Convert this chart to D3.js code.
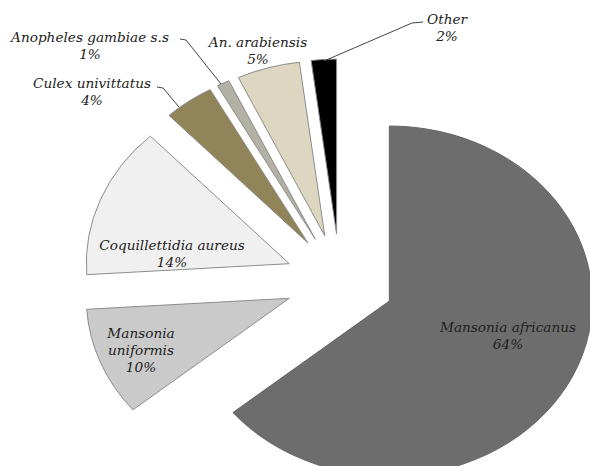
<!DOCTYPE html>
<html lang="en">
<head>
    <meta charset="UTF-8">
    <title>mosquito species pie</title>
    <script src="https://d3js.org/d3.v7.min.js"></script>
    <style>
        body{margin:0;background:#fff}
    </style>
</head>
<body>
<div id="fig"></div>
<script>
    // data
    let species = ["Mansonia africanus","Mansonia uniformis","Coquillettidia aureus","Culex univittatus","Anopheles gambiae s.s","An. arabiensis","Other"]
    let percents = [64,10,14,4,1,5,2]
    let colors = ["#6d6d6d","#cacaca","#f0f0f0","#918458","#b3b1a6","#ddd7c2","#000000"]
    let labelLines = [["Mansonia africanus","64%"],["Mansonia","uniformis","10%"],["Coquillettidia aureus","14%"],["Culex univittatus","4%"],["Anopheles gambiae s.s","1%"],["An. arabiensis","5%"],["Other","2%"]]

    // layout
    let w=590, h=466
    let cx=340, cy=281, r=175, explode=47, sx=1.16
    let labelPos = [[508,332],[141,338],[172,250],[92,88],[90,42],[258,47],[447,24]]
    let leaders = {4:[[180,39],[186,40],[221,84]], 3:[[157,87],[163,88],[179,107]], 6:[[423,22],[412,23],[324,61]]}

    let svg = d3.select("#fig").append("svg").attr("width",w).attr("height",h)

    let pie = d3.pie().sort(null).value(function(d){return d})
    let arc = d3.arc().innerRadius(0).outerRadius(r)
    let slices = pie(percents)

    let g = svg.append("g").attr("transform",`translate(${cx},${cy}) scale(${sx},1)`)
    g.selectAll("path").data(slices).enter().append("path")
        .attr("d",arc)
        .attr("transform",function(d){
            let a=(d.startAngle+d.endAngle)/2
            return `translate(${explode*Math.sin(a)},${-explode*Math.cos(a)})`
        })
        .attr("fill",function(d,i){return colors[i]})
        .attr("stroke",function(d,i){return i===0?"#666":"#8c8c8c"})
        .attr("stroke-width",1)
        .attr("vector-effect","non-scaling-stroke")

    let line = d3.line()
    Object.keys(leaders).forEach(function(k){
        svg.append("path").attr("d",line(leaders[k]))
            .attr("fill","none").attr("stroke","#444").attr("stroke-width",1)
    })

    labelLines.forEach(function(lines,i){
        let t = svg.append("text")
            .attr("transform",`translate(${labelPos[i][0]},${labelPos[i][1]}) scale(1.05,1)`)
            .attr("text-anchor","middle")
            .style("font-family","'DejaVu Serif',serif")
            .style("font-style","italic")
            .style("font-size","13px")
            .style("fill","#222")
        lines.forEach(function(s,j){
            t.append("tspan").attr("x",0).attr("y",j*17).text(s)
        })
    })
</script>
</body>
</html>
